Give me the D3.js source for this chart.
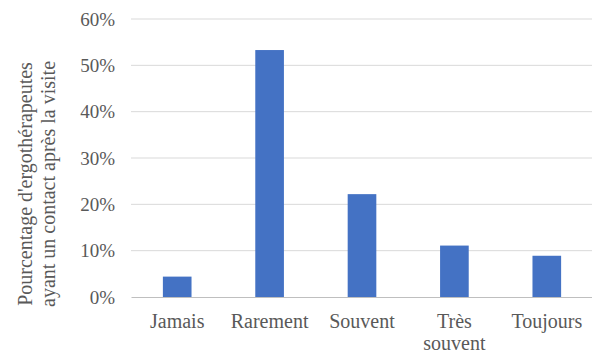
<!DOCTYPE html>
<html>
<head>
<meta charset="utf-8">
<script src="https://cdn.jsdelivr.net/npm/d3@7"></script>
<style>
  html, body { margin: 0; padding: 0; background: #fff; }
  svg { display: block; }
</style>
</head>
<body>
<svg id="chart" width="592" height="356"></svg>
<script>
// Response categories and share of occupational therapists (%)
const categories = ["Jamais", "Rarement", "Souvent", "Très souvent", "Toujours"];
const values = [4.4, 53.3, 22.2, 11.1, 8.9];
const yTicks = [0, 10, 20, 30, 40, 50, 60];
const yTitleLines = ["Pourcentage d'ergothérapeutes", "ayant un contact après la visite"];

const serif = "'Times New Roman', Tinos, 'Noto Serif', 'DejaVu Serif', FreeSerif, Times, serif";
const textColor = "#595959";

const svg = d3.select("#chart").attr("font-family", serif);
const margin = { top: 19, bottom: 59, left: 131 };
const plotRight = 593;
const width = plotRight - margin.left;
const height = 356 - margin.top - margin.bottom;

const g = svg.append("g").attr("transform", `translate(${margin.left},${margin.top})`);

const x = d3.scaleBand().domain(categories).range([0, width]).paddingInner(0.69).paddingOuter(0.345);
const y = d3.scaleLinear().domain([0, 60]).range([height, 0]);

// Horizontal gridlines
g.append("g")
  .selectAll("line")
  .data(yTicks.filter(t => t > 0))
  .join("line")
  .attr("x1", 0).attr("x2", width)
  .attr("y1", d => y(d)).attr("y2", d => y(d))
  .attr("stroke", "#d9d9d9").attr("stroke-width", 1);

// Y axis labels
const yAxis = d3.axisLeft(y).tickValues(yTicks).tickFormat(d => d + "%").tickSize(0).tickPadding(16);
const yg = g.append("g").call(yAxis).attr("font-family", serif);
yg.select(".domain").remove();
yg.selectAll("text")
  .attr("font-family", serif).attr("font-size", 19).attr("fill", textColor);

// Bars
g.append("g")
  .selectAll("rect")
  .data(values)
  .join("rect")
  .attr("x", (d, i) => x(categories[i]))
  .attr("width", x.bandwidth())
  .attr("y", d => y(d))
  .attr("height", d => height - y(d))
  .attr("fill", "#4472c4");

// Category axis
const xAxis = d3.axisBottom(x).tickSize(0).tickPadding(0);
const xg = g.append("g").attr("transform", `translate(0,${height})`).call(xAxis).attr("font-family", serif);
xg.select(".domain").attr("stroke", "#bfbfbf");
xg.selectAll(".tick text").each(function (d) {
  const t = d3.select(this).text(null)
    .attr("font-family", serif).attr("font-size", 20).attr("fill", textColor)
    .attr("y", 0).attr("dy", null);
  const words = d === "Très souvent" ? ["Très", "souvent"] : [d];
  words.forEach((w, i) => {
    t.append("tspan").attr("x", 0).attr("y", 31 + i * 22).text(w);
  });
});

// Y axis title (two lines, rotated)
const title = svg.append("text")
  .attr("transform", "translate(0,184) rotate(-90)")
  .attr("text-anchor", "middle")
  .attr("font-family", serif)
  .attr("font-size", 20)
  .attr("fill", textColor);
yTitleLines.forEach((line, i) => {
  title.append("tspan").attr("x", 0).attr("y", 32 + i * 23).text(line);
});
</script>
</body>
</html>
